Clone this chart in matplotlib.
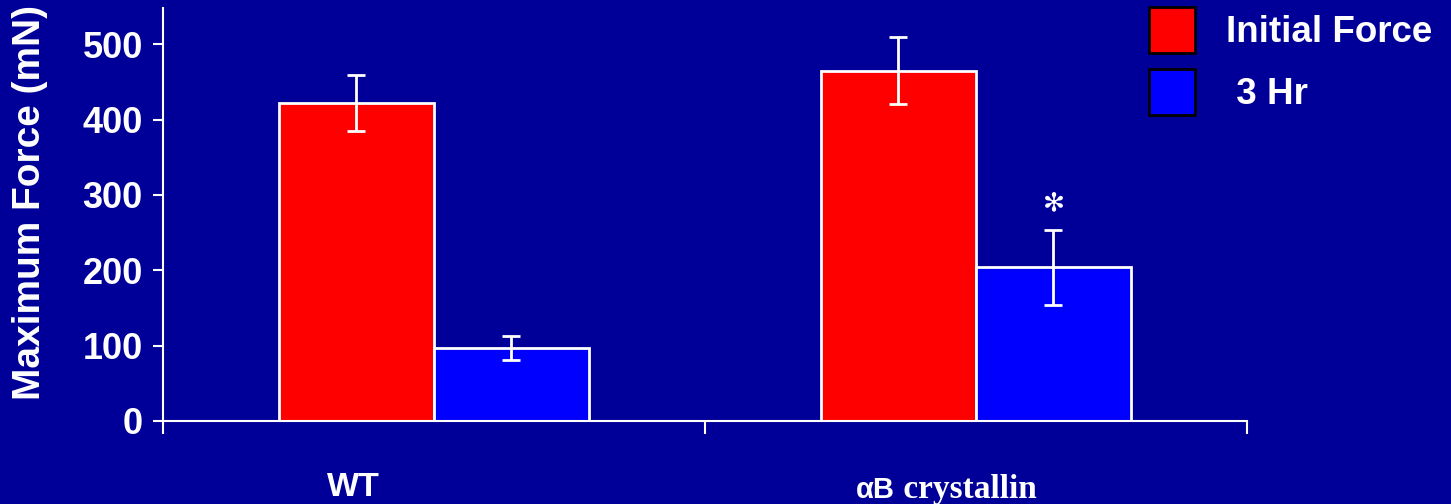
import numpy as np
import matplotlib.pyplot as plt
from matplotlib.offsetbox import TextArea, HPacker, AnnotationBbox

groups = ['WT', 'αB crystallin']
series = ['Initial Force', ' 3 Hr']
initial_force = [422, 465]
initial_err = [37, 44]
three_hr = [97, 204]
three_hr_err = [16, 50]
colors = ['#ff0000', '#0000ff']
bg = '#000099'

plt.rcParams['font.family'] = ['Liberation Sans', 'DejaVu Sans']
plt.rcParams['font.weight'] = 'bold'

fig = plt.figure(figsize=(14.51, 5.04), dpi=100, facecolor=bg)
ax = fig.add_axes([0.1123, 0.1647, 0.7471, 0.8194])
ax.set_facecolor(bg)

x = np.arange(len(groups))
w = 0.286
b1 = ax.bar(x - w / 2, initial_force, w, color=colors[0], edgecolor='white', linewidth=2, label=series[0])
b2 = ax.bar(x + w / 2, three_hr, w, color=colors[1], edgecolor='white', linewidth=2, label=series[1])
ax.errorbar(x - w / 2, initial_force, yerr=initial_err, fmt='none', ecolor='white', elinewidth=2, capsize=6.5, capthick=2)
ax.errorbar(x + w / 2, three_hr, yerr=three_hr_err, fmt='none', ecolor='white', elinewidth=2, capsize=6.5, capthick=2)

# significance mark over the 3 Hr bar
ax.text(1 + w / 2, 289, '✻', color='white', fontsize=19, ha='center', va='center',
        family=['DejaVu Sans'])

ax.set_xlim(-0.5, 1.5)
ax.set_ylim(0, 548)
ax.set_yticks([0, 100, 200, 300, 400, 500])
ax.set_xticks([-0.5, 0.5, 1.5])
ax.set_xticklabels([])
ax.tick_params(axis='y', colors='white', labelsize=26, length=7.5, width=1.5, pad=7)
ax.tick_params(axis='x', colors='white', length=9.5, width=1.5)
for s in ['top', 'right']:
    ax.spines[s].set_visible(False)
for s in ['left', 'bottom']:
    ax.spines[s].set_color('white')
    ax.spines[s].set_linewidth(1.5)

fig.text(30 / 1451, 1 - 203 / 504, 'Maximum Force (mN)', rotation=90, color='white',
         fontsize=28, fontweight='bold', ha='center', va='center')

# category labels
ax.text(-0.148, -0.16, groups[0], transform=ax.get_xaxis_transform(), color='white',
        fontsize=24.5, fontweight='bold', ha='center', va='center')
t1 = TextArea('αB', textprops=dict(color='white', fontsize=21, fontweight='bold',
                                   family=['Liberation Sans', 'DejaVu Sans']))
t2 = TextArea(' crystallin', textprops=dict(color='white', fontsize=24, fontweight='bold',
                                            family=['Liberation Serif', 'DejaVu Serif']))
box = HPacker(children=[t1, t2], align='baseline', pad=0, sep=0)
ab = AnnotationBbox(box, (0.945, -0.165), xycoords=ax.get_xaxis_transform(), frameon=False,
                    box_alignment=(0.5, 0.5), annotation_clip=False)
ax.add_artist(ab)

leg = fig.legend(handles=[b1, b2], labels=series, loc='upper left',
                 bbox_to_anchor=(1149 / 1451, 1 - 7 / 504), frameon=False,
                 fontsize=26.5, handlelength=1.25, handleheight=1.55,
                 handletextpad=0.85, labelspacing=0.42, borderpad=0, borderaxespad=0)
for t in leg.get_texts():
    t.set_color('white')
for h in leg.legend_handles:
    h.set_edgecolor('black')
    h.set_linewidth(2)

fig.savefig('out.png', dpi=100, facecolor=bg)
